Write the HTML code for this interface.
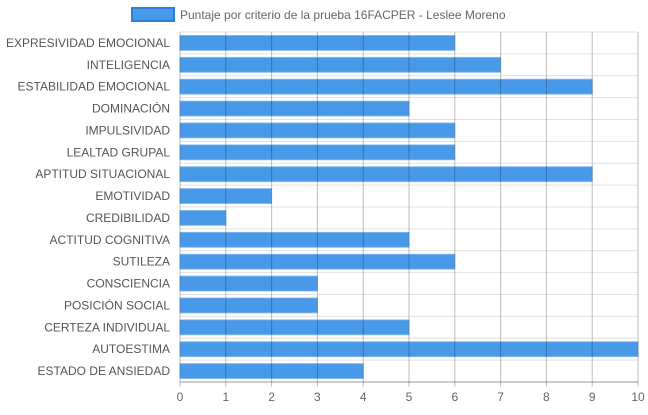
<!DOCTYPE html>
<html><head><meta charset="utf-8"><style>
body{margin:0;background:#fff;font-family:"Liberation Sans",sans-serif}
</style></head><body>
<svg id="c" width="648" height="410" xmlns="http://www.w3.org/2000/svg" font-family="Liberation Sans, sans-serif"></svg>
<script>
const categories=["EXPRESIVIDAD EMOCIONAL","INTELIGENCIA","ESTABILIDAD EMOCIONAL","DOMINACIÓN","IMPULSIVIDAD","LEALTAD GRUPAL","APTITUD SITUACIONAL","EMOTIVIDAD","CREDIBILIDAD","ACTITUD COGNITIVA","SUTILEZA","CONSCIENCIA","POSICIÓN SOCIAL","CERTEZA INDIVIDUAL","AUTOESTIMA","ESTADO DE ANSIEDAD"];
const values=[6,7,9,5,6,6,9,2,1,5,6,3,3,5,10,4];
const ticks=[0,1,2,3,4,5,6,7,8,9,10];
const svg=document.getElementById('c');const NS='http://www.w3.org/2000/svg';
const L=180,R=638,T=32,B=382,max=10;
const x=v=>L+(R-L)*v/max;const rh=(B-T)/categories.length;const y=i=>T+i*rh;
function mk(t,a,p){const e=document.createElementNS(NS,t);for(const k in a)e.setAttribute(k,a[k]);(p||svg).appendChild(e);return e;}
// horizontal grid
for(let i=0;i<=categories.length;i++){const l=mk('line',{x1:L,x2:R,y1:y(i),y2:y(i),stroke:i==categories.length?'#999':'#e2e2e2','stroke-width':1});
}
categories.forEach((c,i)=>{
const r=mk('rect',{x:L,y:y(i)+3.5,width:x(values[i])-L,height:rh-7,fill:'rgba(52,142,230,0.9)',stroke:'rgba(120,180,240,0.8)','stroke-width':1});

const t=mk('text',{x:L-10,y:y(i)+rh/2+4,'text-anchor':'end','font-size':12,fill:'#555'});t.textContent=c;

});
ticks.forEach(v=>{
const l=mk('line',{x1:x(v),x2:x(v),y1:T,y2:B+5,stroke:'rgba(0,0,0,0.25)','stroke-width':1});

const t=mk('text',{x:x(v),y:401,'text-anchor':'middle','font-size':12,fill:'#666'});t.textContent=v;

});
const g=mk('g',{});
mk('rect',{x:132,y:8,width:42,height:13,fill:'rgba(52,142,230,0.9)',stroke:'#2a7fd8','stroke-width':2},g);
const lt=mk('text',{x:180,y:19,'font-size':12,fill:'#666'},g);lt.textContent='Puntaje por criterio de la prueba 16FACPER - Leslee Moreno';

</script>
</body></html>
